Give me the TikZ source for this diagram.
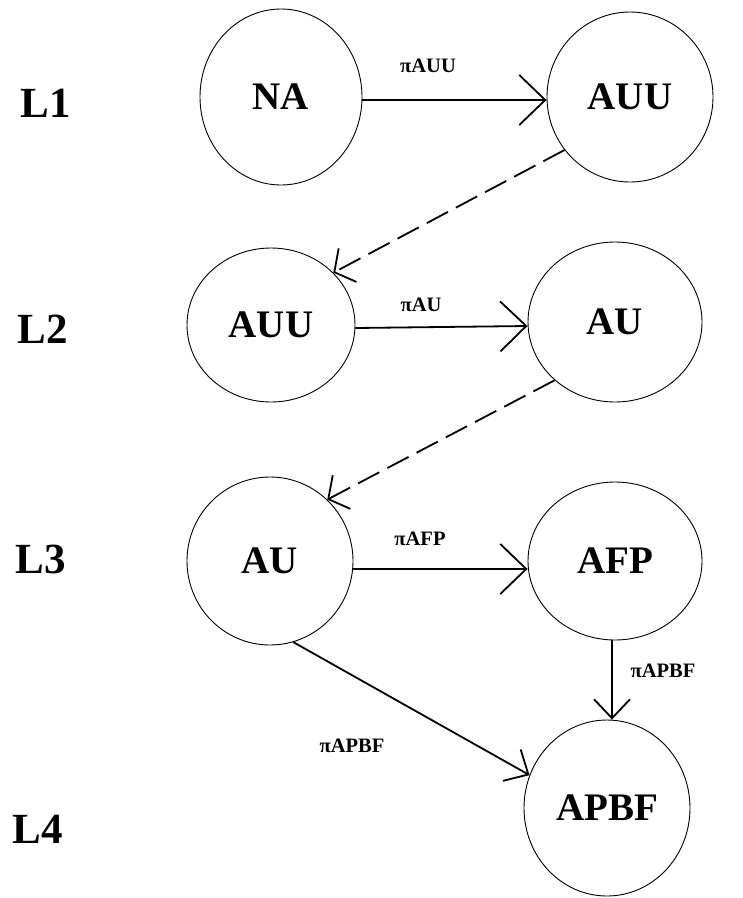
\documentclass[tikz,border=0pt]{standalone}
\usepackage{fontspec}
\setmainfont{Liberation Serif}
\usetikzlibrary{shapes.geometric,arrows.meta}
\begin{document}
\begin{tikzpicture}[x=1pt,y=-1pt,
  state/.style={draw,ellipse,inner sep=0pt,line width=0.9pt,font=\fontsize{39}{39}\selectfont\bfseries},
  lvl/.style={font=\fontsize{43}{43}\selectfont\bfseries},
  elab/.style={font=\fontsize{20.5}{20.5}\selectfont\bfseries,inner sep=0pt},
  conn/.style={line width=1.8pt},
  bigtip/.style={-{Straight Barb[length=26pt,width=50pt,line width=1.8pt]}},
  midtip/.style={-{Straight Barb[length=19pt,width=36pt,line width=1.8pt]}},
  dashtip/.style={-{Straight Barb[length=15pt,width=38pt,line width=1.8pt]}},
  dashcon/.style={line width=1.8pt,dash pattern=on 24pt off 9pt}]
\useasboundingbox (0,0) rectangle (743,898);
\fill[white] (0,0) rectangle (743,898);
% level labels
\node[lvl] (l1) at (46,103) {L1};
\node[lvl] (l2) at (43,329) {L2};
\node[lvl] (l3) at (41,559) {L3};
\node[lvl] (l4) at (38,829) {L4};
% states
\node[state,minimum width=162pt,minimum height=176pt] (na) at (281,97) {NA};
\node[state,minimum width=166pt,minimum height=170pt] (auuA) at (630,97) {AUU};
\node[state,minimum width=168pt,minimum height=154pt] (auuB) at (271,325) {AUU};
\node[state,minimum width=174pt,minimum height=160pt] (auB) at (615,322) {AU};
\node[state,minimum width=166pt,minimum height=168pt] (auC) at (270,561) {AU};
\node[state,minimum width=174pt,minimum height=158pt] (afp) at (615,561) {AFP};
\node[state,minimum width=166pt,minimum height=176pt] (apbf) at (607,808) {APBF};
% edge labels
\node[elab] (e1) at (428,66) {πAUU};
\node[elab] (e2) at (421,305) {πAU};
\node[elab] (e3) at (420,539) {πAFP};
\node[elab] (e4) at (663,671) {πAPBF};
\node[elab] (e5) at (352,746) {πAPBF};
% connectors
\draw[conn,bigtip] ([yshift=-3pt]na.east) -- ([yshift=-3pt]auuA.west);
\draw[conn,bigtip] ([yshift=-3pt]auuB.east) -- ([yshift=-4pt]auB.west);
\draw[conn,bigtip] ([yshift=-8pt]auC.east) -- ([yshift=-8pt]afp.west);
\draw[conn,midtip] ([xshift=-3pt]afp.south) -- ([xshift=5pt]apbf.north);
\draw[conn,midtip] (auC.-74) -- (apbf.157);
\draw[dashcon,dashtip] (auuA.219) -- (auuB.40);
\draw[dashcon,dashtip] (auB.224) -- (auC.47);
\end{tikzpicture}
\end{document}
